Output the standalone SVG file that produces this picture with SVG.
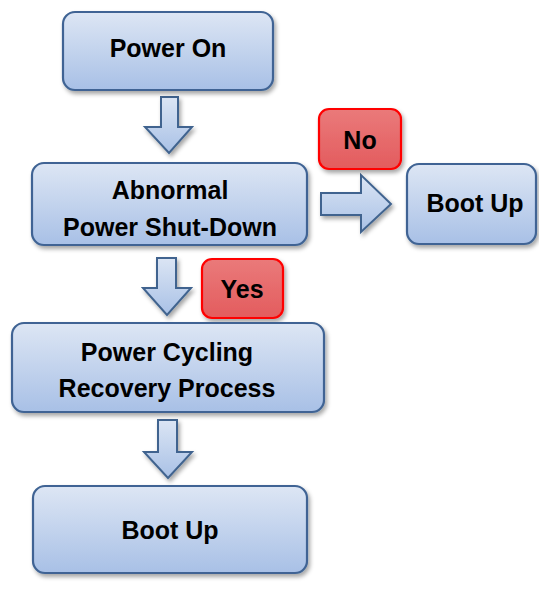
<svg xmlns="http://www.w3.org/2000/svg" width="539" height="595" viewBox="0 0 539 595">
  <defs>
    <linearGradient id="boxFill" x1="0" y1="0" x2="0" y2="1">
      <stop offset="0" stop-color="#dde6f4"/>
      <stop offset="1" stop-color="#a8c0e6"/>
    </linearGradient>
    <linearGradient id="arrowFill" x1="0" y1="0" x2="0" y2="1">
      <stop offset="0" stop-color="#dbe5f4"/>
      <stop offset="1" stop-color="#a9c1e6"/>
    </linearGradient>
    <linearGradient id="redFill" x1="0" y1="0" x2="0" y2="1">
      <stop offset="0" stop-color="#ea7a7a"/>
      <stop offset="1" stop-color="#e35c5e"/>
    </linearGradient>
    <filter id="shadow" x="-10%" y="-10%" width="125%" height="130%">
      <feDropShadow dx="2" dy="3" stdDeviation="2" flood-color="#000" flood-opacity="0.35"/>
    </filter>
  </defs>
  <style>
    .box { fill: url(#boxFill); stroke: #3f6494; stroke-width: 2.2; filter: url(#shadow); }
    .tag { fill: url(#redFill); stroke: #ff0000; stroke-width: 2.2; filter: url(#shadow); }
    .arrow { fill: url(#arrowFill); stroke: #41648f; stroke-width: 2; stroke-linejoin: miter; filter: url(#shadow); }
    text { font-family: "Liberation Sans", Arial, sans-serif; font-weight: bold; font-size: 25px; fill: #000; text-anchor: middle; }
  </style>
  <rect width="539" height="595" fill="#ffffff"/>

  <g id="connectors">
    <polygon class="arrow" points="161,97 178,97 178,127 192,127 169,153 145,127 161,127"/>
    <polygon class="arrow" points="157,258 176,258 176,288 191,288 167,315 143,288 157,288"/>
    <polygon class="arrow" points="158,420 177,420 177,452 192,452 168,478 144,452 158,452"/>
    <polygon class="arrow" points="321,193 361,193 361,175 391,204 361,232 361,215 321,215"/>
  </g>

  <g id="power-on">
    <rect class="box" x="63" y="12" width="210" height="78" rx="12"/>
    <text x="168" y="57">Power On</text>
  </g>

  <g id="abnormal-shutdown">
    <rect class="box" x="32" y="163" width="275" height="82" rx="12"/>
    <text x="170" y="199">Abnormal</text>
    <text x="170" y="236">Power Shut-Down</text>
  </g>

  <g id="label-no">
    <rect class="tag" x="319" y="109" width="82" height="60" rx="10"/>
    <text x="360" y="149">No</text>
  </g>

  <g id="boot-up-right">
    <rect class="box" x="407" y="164" width="129" height="80" rx="12"/>
    <text x="475" y="212">Boot Up</text>
  </g>

  <g id="label-yes">
    <rect class="tag" x="202" y="259" width="81" height="59" rx="10"/>
    <text x="242" y="298">Yes</text>
  </g>

  <g id="power-cycling">
    <rect class="box" x="12" y="323" width="312" height="89" rx="12"/>
    <text x="167" y="361">Power Cycling</text>
    <text x="167" y="397">Recovery Process</text>
  </g>

  <g id="boot-up-bottom">
    <rect class="box" x="33" y="486" width="274" height="87" rx="12"/>
    <text x="170" y="539">Boot Up</text>
  </g>
</svg>
